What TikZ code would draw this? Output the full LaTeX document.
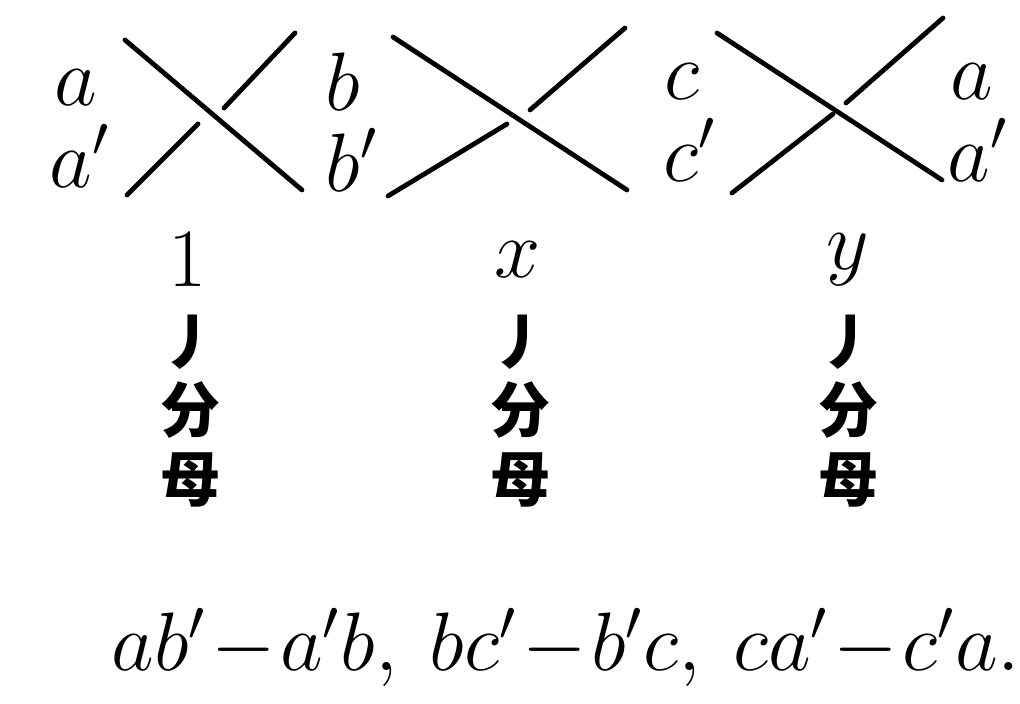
\documentclass[tikz,border=0pt]{standalone}
\usepackage{fontspec}
\newfontfamily\cjk{Noto Sans CJK SC}
\begin{document}
\begin{tikzpicture}[x=0.25pt,y=-0.25pt,
  strand/.style={line width=1.2pt,line cap=round},
  lab/.style={font=\fontsize{20}{22}\selectfont,inner sep=0pt},
  cj/.style={font=\fontsize{15}{17}\selectfont\cjk\bfseries,inner sep=0pt}]
\useasboundingbox (0,0) rectangle (1020,704);
% crossing 1
\draw[strand] (125,40) -- (302,190);
\draw[strand] (295,33) -- (224,108);
\draw[strand] (198,124) -- (127,195);
% crossing 2
\draw[strand] (393,37) -- (627,190);
\draw[strand] (625,28) -- (530,110);
\draw[strand] (507,124) -- (388,196);
% crossing 3
\draw[strand] (717,33) -- (942,180);
\draw[strand] (943,18) -- (846,103);
\draw[strand] (833,114) -- (732,193);
% labels
\node[lab] (a1) at (76,88) {$a$};
\node[lab] (a1p) at (80,156) {$a'$};
\node[lab] (b) at (343,82) {$b$};
\node[lab] (bp) at (352,160) {$b'$};
\node[lab] (c) at (682,82) {$c$};
\node[lab] (cp) at (690,150) {$c'$};
\node[lab] (a2) at (972,82) {$a$};
\node[lab] (a2p) at (978,150) {$a'$};
% columns
\node[lab] (n1) at (188,260) {$1$};
\node[lab] (nx) at (518,260) {$x$};
\node[lab] (ny) at (848,260) {$y$};
\foreach \cx/\nm in {190/p,520/q,848/r}{
  \node[cj] (s\nm) at (\cx,342) {丿};
  \node[cj] (f\nm) at (\cx,410) {分};
  \node[cj] (m\nm) at (\cx,480) {母};
}
\node[lab,font=\fontsize{19.5}{22}\selectfont] (formula) at (566,648) {$\thinmuskip=2mu\medmuskip=1mu ab'-a'b,\; bc'-b'c,\; ca'-c'a.$};
\end{tikzpicture}
\end{document}
